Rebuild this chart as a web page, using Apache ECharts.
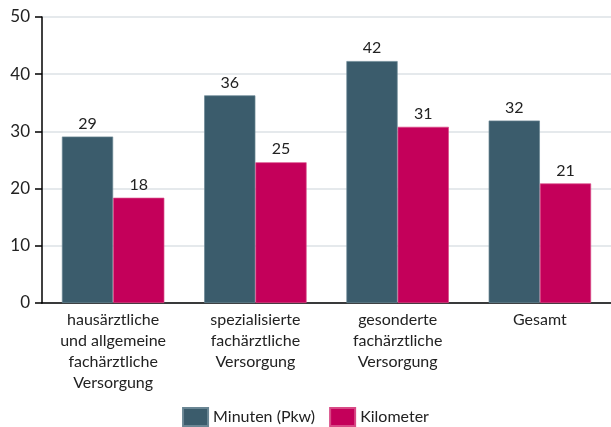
<!DOCTYPE html>
<html><head><meta charset="utf-8">
<script src="https://cdn.jsdelivr.net/npm/echarts@6/dist/echarts.min.js"></script>
<style>html,body{margin:0;padding:0;background:#fff}#c{width:611px;height:427px}</style>
</head><body><div id="c"></div>
<script>
const categories = ['hausärztliche\nund allgemeine\nfachärztliche\nVersorgung', 'spezialisierte\nfachärztliche\nVersorgung', 'gesonderte\nfachärztliche\nVersorgung', 'Gesamt'];
const minuten = [29.1, 36.3, 42.3, 31.9];
const kilometer = [18.4, 24.6, 30.8, 20.9];
const seriesNames = ['Minuten (Pkw)', 'Kilometer'];
const yTicks = {min: 0, max: 50, interval: 10};
const FONT = 'Lato';
const chart = echarts.init(document.getElementById('c'), null, {renderer: 'canvas'});
const lbl = {show: true, position: 'top', distance: 5, color: '#222', fontFamily: FONT, fontSize: 16, formatter: p => Math.round(p.value)};
chart.setOption({
  animation: false,
  textStyle: {fontFamily: FONT},
  grid: {left: 42, right: 0, top: 17, bottom: 124},
  legend: {
    data: seriesNames, bottom: 0, left: 'center', padding: 0, itemWidth: 25, itemHeight: 18, itemGap: 14,
    textStyle: {fontFamily: FONT, fontSize: 16, color: '#222'}, icon: 'rect'
  },
  xAxis: {
    type: 'category', data: categories,
    axisLine: {lineStyle: {color: '#000', width: 1.5}},
    axisTick: {show: false},
    axisLabel: {interval: 0, color: '#222', fontFamily: FONT, fontSize: 16, lineHeight: 21, margin: 6}
  },
  yAxis: {
    type: 'value', min: yTicks.min, max: yTicks.max, interval: yTicks.interval,
    axisLine: {show: true, lineStyle: {color: '#000', width: 1.5}},
    axisTick: {show: true, length: 7, lineStyle: {color: '#000', width: 1.5}},
    axisLabel: {color: '#222', fontFamily: FONT, fontSize: 17, margin: 12},
    splitLine: {lineStyle: {color: '#dde2e6', width: 1.5}}
  },
  series: [
    {name: seriesNames[0], type: 'bar', data: minuten, barGap: '0%', barCategoryGap: '28%',
     itemStyle: {color: '#3b5c6c', borderColor: '#6a8694', borderWidth: 0.7}, label: lbl},
    {name: seriesNames[1], type: 'bar', data: kilometer,
     itemStyle: {color: '#c4005a', borderColor: '#d84a86', borderWidth: 0.7}, label: lbl}
  ]
});
</script></body></html>
